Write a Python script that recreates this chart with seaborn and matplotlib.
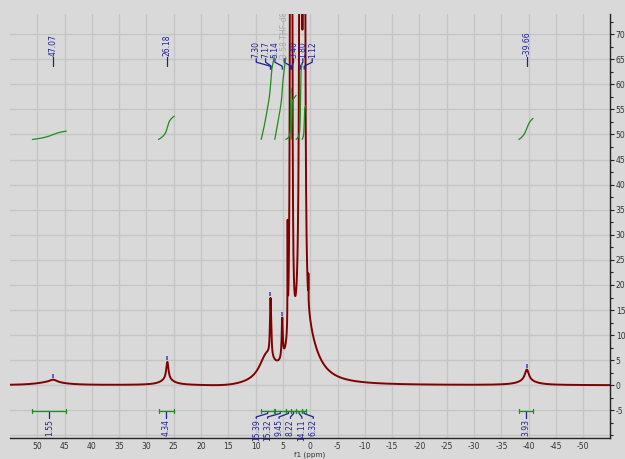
import numpy as np
import pandas as pd
import seaborn as sns
import matplotlib.pyplot as plt
from matplotlib.ticker import MultipleLocator

# sharp lines: position (ppm), height, half width (ppm)
peak_ppm = [47.07, 26.18, -39.66, 7.30, 7.17, 5.14, 4.15, 3.58, 3.40, 1.80, 1.12, 0.35]
peak_height = [0.5, 3.6, 2.3, 10.0, 4.0, 8.0, 20.0, 2000.0, 1000.0, 2000.0, 1500.0, 5.0]
peak_width = [0.8, 0.25, 0.45, 0.11, 0.10, 0.12, 0.03, 0.03, 0.03, 0.045, 0.045, 0.02]

# broad background humps (and a shallow baseline dip)
hump_ppm = [47.5, 26.2, -39.7, 1.0, 8.0, 15.0]
hump_height = [0.6, 1.0, 0.8, 10.5, 5.0, -0.5]
hump_width = [3.0, 1.5, 2.0, 2.5, 1.6, 6.0]

# picked peak labels
single_ppm = [47.07, 26.18, -39.66]
single_text = ["47.07", "26.18", "-39.66"]
group_ppm = [7.30, 7.17, 5.14, 3.58, 3.40, 1.80, 1.12]
group_text = ["7.30", "7.17", "5.14", "3.58 THF-d8", "3.40", "1.80", "1.12"]
marker_ppm = [47.07, 26.18, -39.66, 7.30, 5.14]

# integrals
integ_from = [50.9, 27.8, -38.2, 9.0, 6.5, 4.5, 3.5, 2.6, 1.5]
integ_to = [44.7, 24.9, -40.8, 6.6, 4.5, 3.5, 2.6, 1.5, 0.8]
integ_value = [1.55, 4.34, 3.93, 15.39, 15.32, 9.45, 8.22, 14.11, 6.32]

bg = "#d9d9d9"
red = "#800000"
green = "#1e8c1e"
blue = "#1f1f99"

ppm = np.linspace(55, -55, 40000)
spec = np.zeros_like(ppm)
for c, h, w in zip(peak_ppm + hump_ppm, peak_height + hump_height, peak_width + hump_width):
    spec += h / (1 + ((ppm - c) / w) ** 2)

df = pd.DataFrame({"ppm": ppm, "intensity": spec})

sns.set_style("whitegrid", {"axes.facecolor": bg, "figure.facecolor": bg,
                            "grid.color": "#c5c5c5", "axes.edgecolor": "#222222"})
plt.rcParams["font.family"] = ["DejaVu Sans"]
plt.rcParams["axes.unicode_minus"] = False

fig = plt.figure(figsize=(6.25, 4.59), dpi=100, facecolor=bg)
ax = fig.add_axes([10 / 625, 21.5 / 459, 599.5 / 625, 423.5 / 459])

sns.lineplot(data=df, x="ppm", y="intensity", color=red, lw=1.4, sort=False,
             estimator=None, ax=ax, zorder=2)

# integral curves and brackets
k = 1.07
for a, b, v in zip(integ_from, integ_to, integ_value):
    m = (ppm <= a) & (ppm >= b)
    cum = np.cumsum(spec[m])
    cum = 49 + cum / cum[-1] * v * k
    ax.plot(ppm[m], cum, color=green, lw=0.9, zorder=3)
    ax.plot([a, b], [-5.2, -5.2], color=green, lw=0.9, zorder=3)
    for e in (a, b):
        ax.plot([e, e], [-4.8, -5.6], color=green, lw=0.9, zorder=3)

# integral labels
for a, b, v in zip(integ_from[:3], integ_to[:3], integ_value[:3]):
    c = (a + b) / 2
    ax.plot([c, c], [-5.2, -6.6], color=blue, lw=0.9)
    ax.text(c, -6.8, f"{v:.2f}", rotation=90, ha="center", va="top",
            fontsize=5.5, color=blue)
lab_x = np.linspace(9.9, -0.55, len(integ_value) - 3)
for a, b, v, lx in zip(integ_from[3:], integ_to[3:], integ_value[3:], lab_x):
    c = (a + b) / 2
    ax.plot([c, c, lx, lx], [-5.2, -5.6, -6.3, -6.6], color=blue, lw=0.9)
    ax.text(lx, -6.8, f"{v:.2f}", rotation=90, ha="center", va="top",
            fontsize=5.5, color=blue)

# peak labels
for p, t in zip(single_ppm, single_text):
    ax.plot([p, p], [63.7, 65.4], color=blue, lw=0.9)
    ax.text(p, 65.7, t, rotation=90, ha="center", va="bottom", fontsize=5.5, color=blue)
grp_x = np.linspace(9.9, -0.35, len(group_ppm))
for p, t, lx in zip(group_ppm, group_text, grp_x):
    col = "#a8a8a8" if "THF" in t else blue
    ax.plot([lx, lx, p, p], [65.1, 64.4, 63.6, 63.0], color=blue, lw=0.9)
    ax.text(lx, 65.3, t, rotation=90, ha="center", va="bottom", fontsize=5.5,
            color=col, clip_on=True)

# peak pick markers
mk_y = [spec[np.argmin(abs(ppm - p))] + 0.8 for p in marker_ppm]
ax.plot(marker_ppm, mk_y, ls="none", marker="|", ms=3, mew=1.2, color="#4a4ad0", zorder=4)

ax.set_xlim(55, -54.8)
ax.set_ylim(-10.4, 74)
ax.set_xticks(np.arange(50, -51, -5))
ax.xaxis.set_minor_locator(MultipleLocator(2.5))
ax.set_yticks(np.arange(-5, 71, 5))
ax.yaxis.set_minor_locator(MultipleLocator(2.5))
ax.axhline(-10, color="#c5c5c5", lw=1.0, zorder=0)
ax.yaxis.tick_right()
ax.grid(True, which="major", lw=1.0, color="#c5c5c5")
ax.set_axisbelow(True)
for s in ("left", "top"):
    ax.spines[s].set_visible(False)
for s in ("bottom", "right"):
    ax.spines[s].set_linewidth(1.0)
ax.tick_params(which="both", direction="out", labelsize=5.5, colors="#222222",
               labelcolor="#333333", width=0.8, pad=1.5)
ax.tick_params(which="major", length=3)
ax.tick_params(which="minor", length=2)
ax.tick_params(axis="x", which="major", length=2.5, pad=0.8)
ax.tick_params(axis="y", which="both", right=True, left=False)
ax.set_xlabel("f1 (ppm)", fontsize=5.2, color="#333333")
ax.xaxis.set_label_coords(0.5, -0.0328)
ax.set_ylabel("")

fig.savefig("out.png", dpi=100, facecolor=bg)
